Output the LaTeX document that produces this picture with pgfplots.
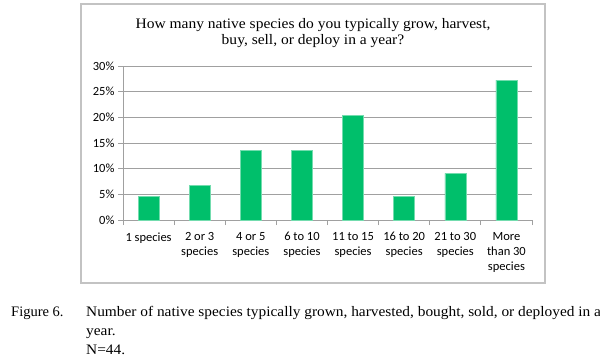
\documentclass[border=0pt]{standalone}
\usepackage{fontspec}
\setmainfont{Liberation Serif}
\newfontfamily\calib{Carlito}
\usepackage{pgfplots}
\pgfplotsset{compat=1.18}
\definecolor{bargreen}{RGB}{0,191,107}
\definecolor{gridgray}{RGB}{160,160,160}
\definecolor{boxgray}{RGB}{195,195,195}
\begin{document}
\begin{tikzpicture}[x=1pt,y=1pt]
\useasboundingbox (0,0) rectangle (600,360);
\fill[white] (0,0) rectangle (600,360);
\draw[boxgray, line width=1.5pt] (81,77) rectangle (545,356);
\node[anchor=base, inner sep=0pt, font=\fontsize{14.5}{17}\selectfont] at (313,332) {\scalebox{1.07}[1]{How many native species do you typically grow, harvest,}};
\node[anchor=base, inner sep=0pt, font=\fontsize{14.5}{17}\selectfont] at (313,316) {\scalebox{1.07}[1]{buy, sell, or deploy in a year?}};
\begin{axis}[at={(123pt,140pt)}, anchor=south west, scale only axis,
  width=409pt, height=154pt,
  xmin=-0.5, xmax=7.5, ymin=0, ymax=30, ytick={0,5,...,30},
  axis lines*=left,
  xtick={-0.5,0.5,...,7.5}, xticklabels={},
  extra x ticks={0,1,2,3,4,5,6,7},
  extra x tick labels={1 species, 2 or 3\\species, 4 or 5\\species, 6 to 10\\species, 11 to 15\\species, 16 to 20\\species, 21 to 30\\species, More\\than 30\\species},
  extra x tick style={major tick length=0pt, xmajorgrids=false},
  xticklabel style={align=center, font=\calib\fontsize{12.5}{15}\selectfont, anchor=north, yshift=-9pt},
  yticklabel style={font=\calib\fontsize{12.5}{15}\selectfont},
  /pgf/number format/assume math mode=true,
  yticklabel={\pgfmathprintnumber{\tick}\%},
  ymajorgrids, grid style={gridgray, line width=0.8pt},
  axis line style={gridgray, line width=0.8pt},
  tick style={gridgray, line width=0.8pt},
  tick align=outside, major tick length=5pt,
]
\addplot[ybar, bar width=21pt, fill=bargreen, draw=bargreen!55!white, line width=0.6pt]
  coordinates {(0,4.545) (1,6.818) (2,13.636) (3,13.636) (4,20.455) (5,4.545) (6,9.091) (7,27.273)};
\end{axis}
\node[anchor=base west, inner sep=0pt, font=\fontsize{14.5}{17}\selectfont] at (11,44) {Figure 6.};
\node[anchor=base west, inner sep=0pt, font=\fontsize{14.5}{17}\selectfont] at (86,44) {\scalebox{1.06}[1]{Number of native species typically grown, harvested, bought, sold, or deployed in a}};
\node[anchor=base west, inner sep=0pt, font=\fontsize{14.5}{17}\selectfont] at (86,25) {\scalebox{1.06}[1]{year.}};
\node[anchor=base west, inner sep=0pt, font=\fontsize{14.5}{17}\selectfont] at (86,6) {\scalebox{1.06}[1]{N=44.}};
\end{tikzpicture}
\end{document}
